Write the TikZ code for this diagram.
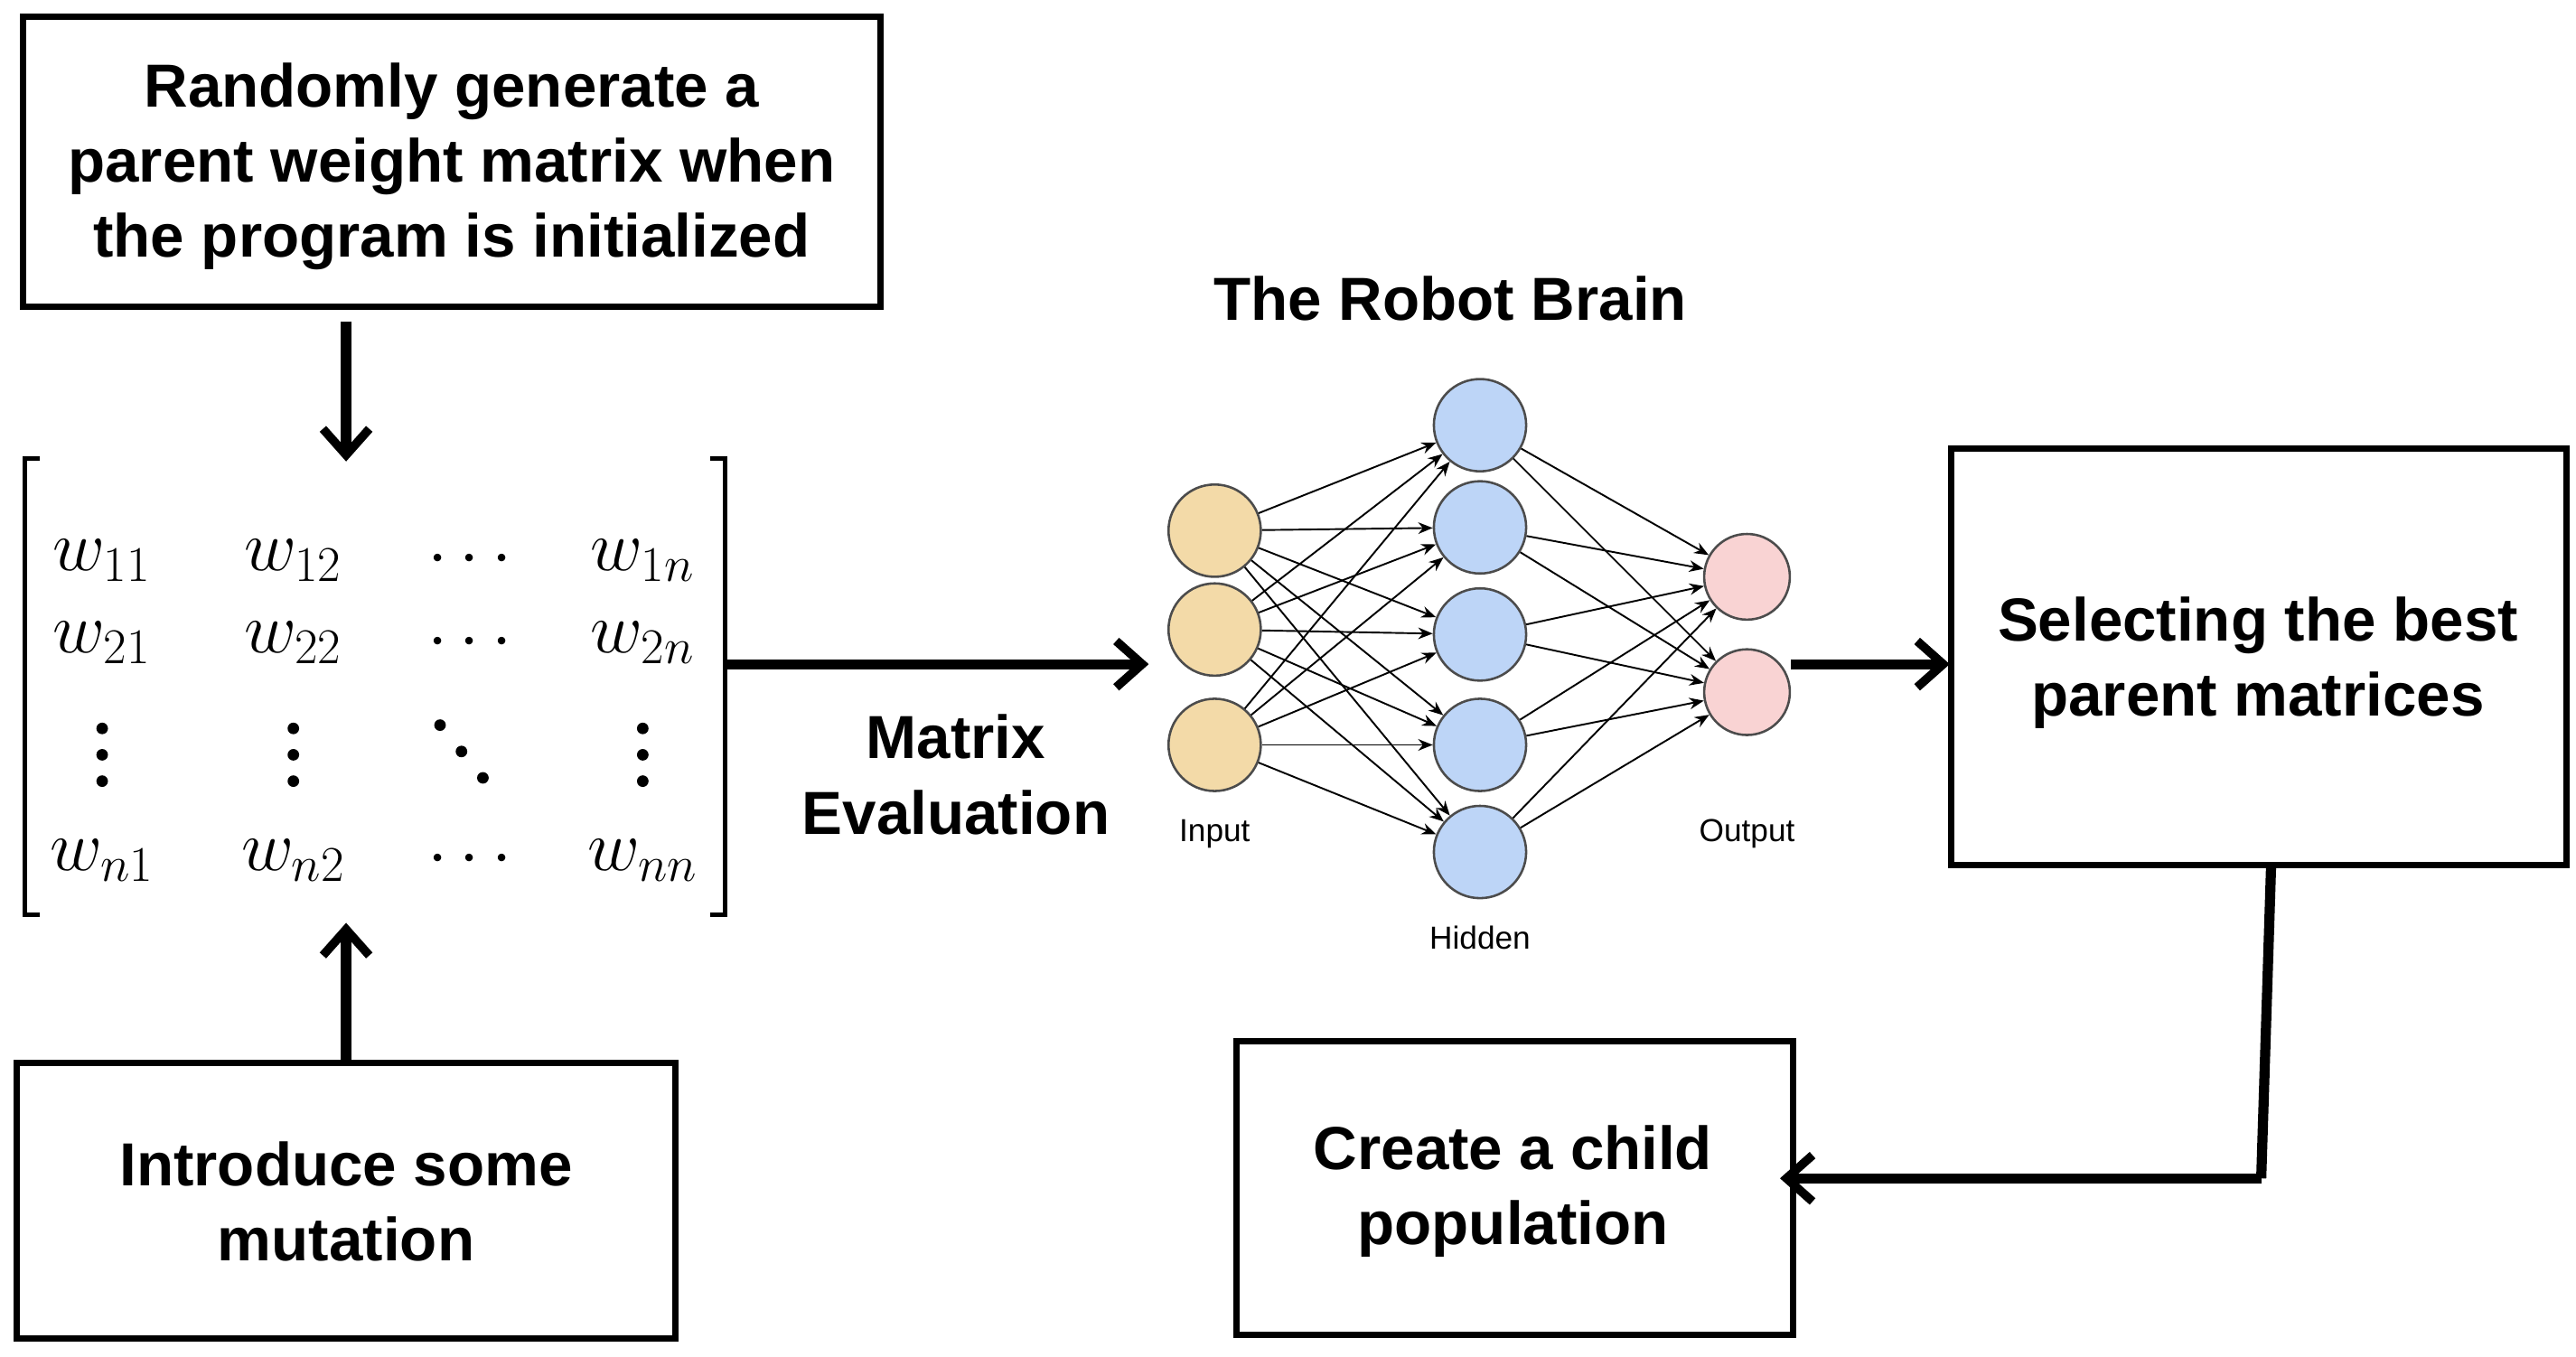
\documentclass[tikz,border=0pt]{standalone}
\usepackage{fontspec}
\setmainfont{Liberation Sans}
\usetikzlibrary{arrows.meta}
\definecolor{inC}{HTML}{F3DAA8}
\definecolor{hidC}{HTML}{BDD5F7}
\definecolor{outC}{HTML}{F9D3D3}
\begin{document}
\begin{tikzpicture}[x=0.02cm,y=-0.02cm,
 box/.style={draw,line width=2.2pt},
 txt/.style={font=\fontsize{21}{26}\selectfont\bfseries,align=center},
 big/.style={line width=3.5pt,-{Straight Barb[length=9pt,width=16pt,line width=3pt]}},
 nn/.style={draw=black!70,line width=0.8pt,circle,minimum size=56*0.02cm,inner sep=0},
 e/.style={line width=0.6pt,-{Stealth[length=5pt,width=4pt]}},
 lab/.style={font=\fontsize{11}{13}\selectfont},
 dot/.style={circle,fill,inner sep=0,minimum size=4pt}]
\useasboundingbox (0,0) rectangle (1563,823);
% box 1
\draw[box] (14,10) rectangle (534,186);
\node[txt] (t1) at (274,101) {Randomly generate a\\parent weight matrix when\\the program is initialized};
\coordinate (a1s) at (210,195); \coordinate (a1e) at (210,280);
\draw[big] (a1s) -- (a1e);
% matrix
\draw[line width=1.5pt] (24,278) -- (15,278) -- (15,555) -- (24,555);
\draw[line width=1.5pt] (431,278) -- (440,278) -- (440,555) -- (431,555);
\begin{scope}[every node/.style={font=\fontsize{26}{30}\selectfont}]
\node (m11) at (62,340) {$w_{11}$}; \node (m12) at (178,340) {$w_{12}$}; \node (m13) at (285,340) {$\cdots$}; \node (m14) at (390,340) {$w_{1n}$};
\node (m21) at (62,390) {$w_{21}$}; \node (m22) at (178,390) {$w_{22}$}; \node (m23) at (285,390) {$\cdots$}; \node (m24) at (390,390) {$w_{2n}$};
\node (m41) at (62,522) {$w_{n1}$}; \node (m42) at (178,522) {$w_{n2}$}; \node (m43) at (285,522) {$\cdots$}; \node (m44) at (390,522) {$w_{nn}$};
\end{scope}
\foreach \x in {62,178,390} \foreach \y in {442,458,474} \node[dot] at (\x,\y) {};
\foreach \x/\y in {268,442,282,458,296,474} {}
\node[dot] (d1) at (267,440) {}; \node[dot] (d2) at (280,456) {}; \node[dot] (d3) at (293,472) {};
% box 2
\draw[box] (10,645) rectangle (410,812);
\node[txt] (t2) at (210,729) {Introduce some\\mutation};
\coordinate (a2s) at (210,645); \coordinate (a2e) at (210,560);
\draw[big] (a2s) -- (a2e);
% matrix -> NN
\coordinate (a3s) at (440,403); \coordinate (a3e) at (697,403);
\draw[big] (a3s) -- (a3e);
\node[txt] (me) at (580,470) {Matrix\\Evaluation};
\node[txt] (rb) at (880,181) {The Robot Brain};
% NN
\foreach \i/\y in {1/322,2/382,3/452} \node[nn,fill=inC] (i\i) at (737,\y) {};
\foreach \i/\y in {1/258,2/320,3/385,4/452,5/517} \node[nn,fill=hidC] (h\i) at (898,\y) {};
\foreach \i/\y in {1/350,2/420} \node[nn,fill=outC,minimum size=52*0.02cm] (o\i) at (1060,\y) {};
\foreach \i in {1,2,3} \foreach \j in {1,...,5} \draw[e] (i\i) -- (h\j);
\foreach \j in {1,...,5} \foreach \k in {1,2} \draw[e] (h\j) -- (o\k);
\node[lab] (li) at (737,506) {Input};
\node[lab] (lh) at (898,569) {Hidden};
\node[lab] (lo) at (1060,506) {Output};
% box 3
\draw[box] (1184,272) rectangle (1557,525);
\node[txt] (t3) at (1370,402) {Selecting the best\\parent matrices};
\coordinate (a4e) at (1183,403);
\draw[big] (o2.east |- a4e) -- (a4e);
% box 4
\draw[box] (750,632) rectangle (1088,810);
\node[txt] (t4) at (918,723) {Create a child\\population};
\coordinate (c1) at (1378,525); \coordinate (c2) at (1372,715); \coordinate (c3) at (1080,715);
\draw[line width=3.5pt] (c1) -- (c2);
\draw[big] (c2) -- (c3);
\end{tikzpicture}
\end{document}
